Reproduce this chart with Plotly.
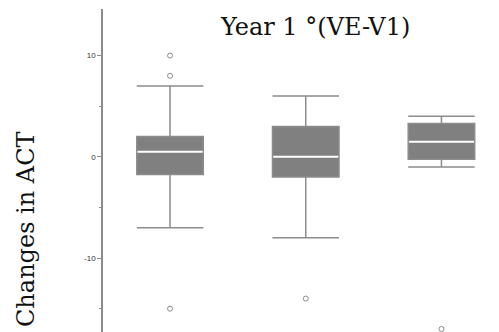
import plotly.graph_objects as go

positions = [0, 1, 2]
q1 = [-1.75, -2.0, -0.25]
median = [0.5, 0.0, 1.5]
q3 = [2.0, 3.0, 3.3]
lower = [-7.0, -8.0, -1.0]
upper = [7.0, 6.0, 4.0]
outlier_x = [0, 0, 0, 1, 2]
outlier_y = [10, 8, -15, -14, -17]

title_text = "Year 1 °(VE-V1)"
ytitle_text = "Changes in ACT"
tick_vals = [-10, 0, 10]
tick_text = ["-10", "0", "10"]

GRAY = "#808080"
LINE = "#8c8c8c"
BW = 0.49

fig = go.Figure()
fig.add_trace(go.Box(
    x=positions, q1=q1, median=median, q3=q3,
    lowerfence=lower, upperfence=upper,
    fillcolor=GRAY, line=dict(color=LINE, width=1.5),
    width=BW, whiskerwidth=1, boxpoints=False, showlegend=False,
    hoverinfo="skip",
))
# white median lines
for x, m in zip(positions, median):
    fig.add_trace(go.Scatter(
        x=[x - BW / 2 + 0.005, x + BW / 2 - 0.005], y=[m, m], mode="lines",
        line=dict(color="white", width=2), showlegend=False, hoverinfo="skip",
    ))
fig.add_trace(go.Scatter(
    x=outlier_x, y=outlier_y, mode="markers",
    marker=dict(symbol="circle-open", size=5, color=LINE, line=dict(width=1)),
    showlegend=False, hoverinfo="skip", cliponaxis=False,
))

fig.update_layout(
    width=499, height=332,
    margin=dict(l=103, r=0, t=9, b=0),
    plot_bgcolor="white", paper_bgcolor="white",
    xaxis=dict(range=[-0.494, 2.424], visible=False),
    yaxis=dict(
        range=[-17.3, 14.6], showgrid=False, zeroline=False,
        showline=True, linecolor=LINE, linewidth=1.5,
        tickmode="array", tickvals=tick_vals, ticktext=tick_text,
        ticks="outside", ticklen=4, tickcolor=LINE, tickwidth=1,
        tickfont=dict(family="Liberation Sans, Arial", size=8, color="#333"),
        minor=dict(tickvals=[-15, -5, 5], ticks="outside", ticklen=2,
                   tickcolor=LINE, tickwidth=1),
    ),
    annotations=[
        dict(text=title_text, xref="paper", yref="paper",
             x=(315 - 103) / 396, y=(332 - 27) / 323,
             xanchor="center", yanchor="middle",
             showarrow=False, font=dict(family="DejaVu Serif", size=24, color="#111")),
        dict(text=ytitle_text, xref="paper", yref="paper",
             x=(26 - 103) / 396, y=(332 - 229) / 323,
             xanchor="center", yanchor="middle",
             textangle=-90, showarrow=False,
             font=dict(family="DejaVu Serif", size=24, color="#111")),
    ],
)
fig.write_html("out.html")
